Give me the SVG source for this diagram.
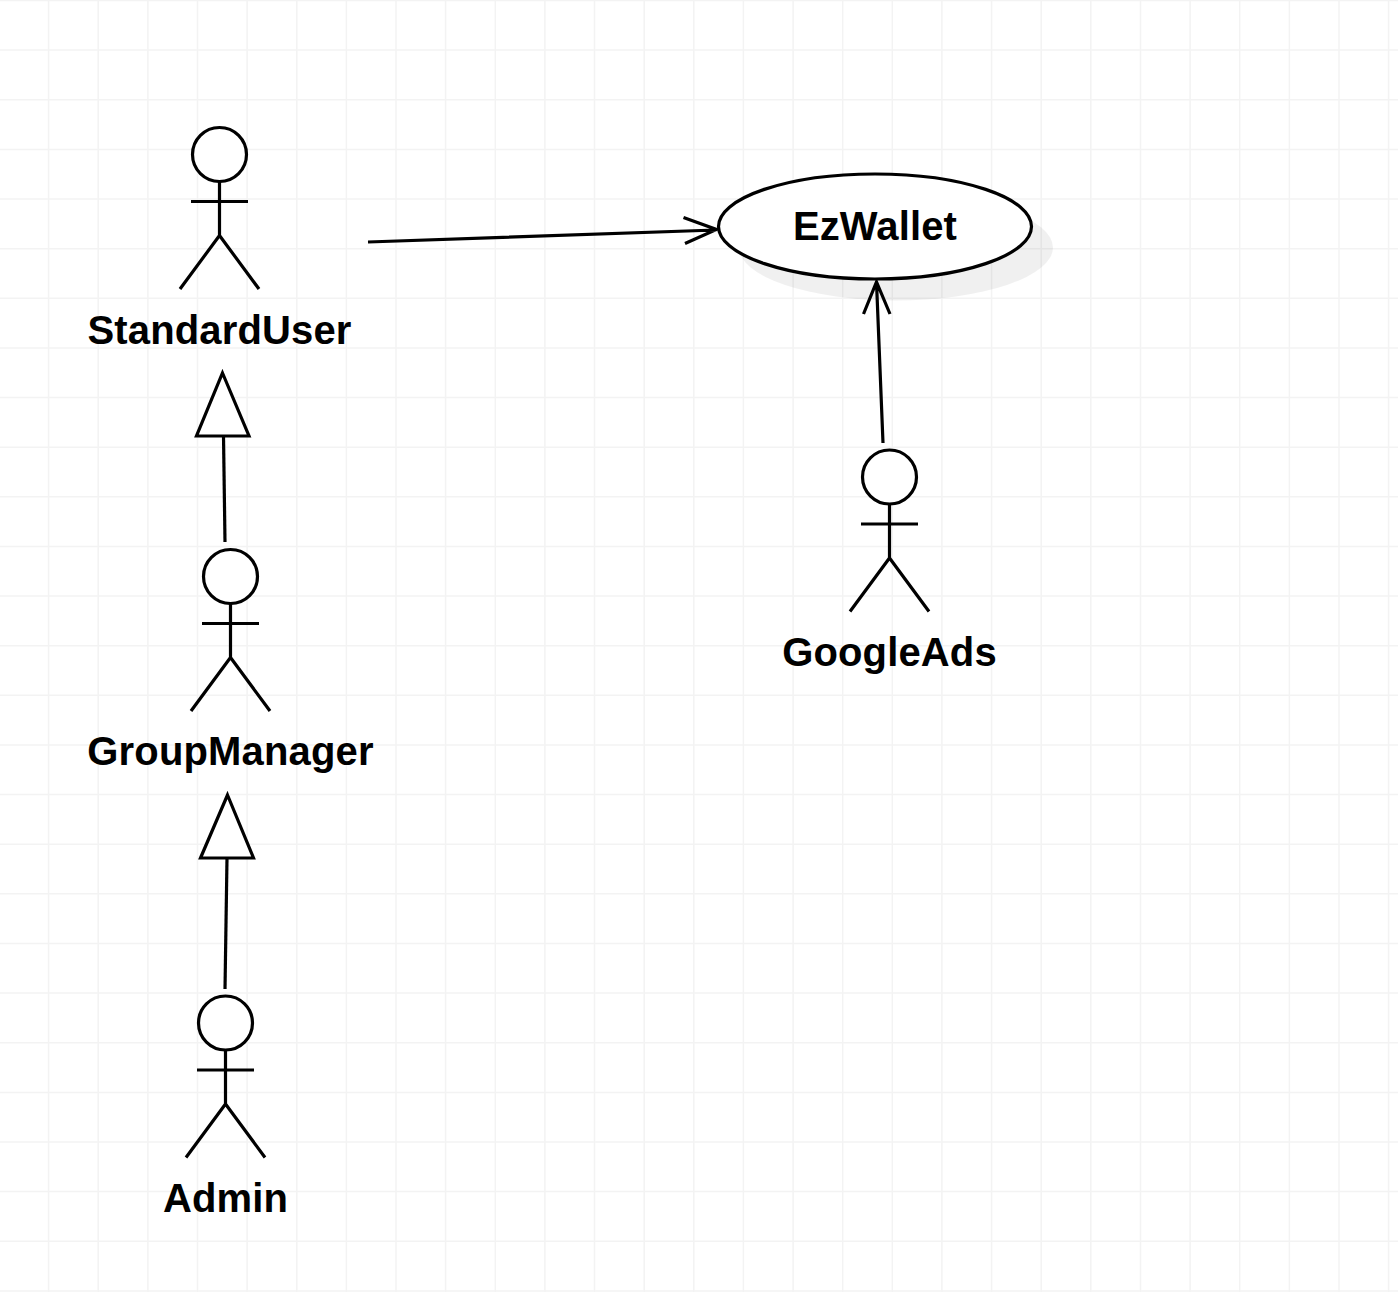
<svg xmlns="http://www.w3.org/2000/svg" width="1398" height="1292" viewBox="0 0 1398 1292">
<style>
.g{stroke:#f3f3f3;stroke-width:1.5;fill:none}
.s{stroke:#000;stroke-width:3.200;fill:none}
.a{stroke:#000;stroke-width:3.200;fill:#fff}
.t{font-family:"Liberation Sans",Arial,sans-serif;font-weight:700;font-size:40px;letter-spacing:.15px;fill:#000;text-anchor:middle}
</style>
<defs>
<g id="actor">
<circle class="a" cx="0" cy="27.500" r="27"/>
<path class="s" d="M0 55V108.500M-28.500 74.500H28.500M-39.500 162L0 108.500L39.500 162"/>
</g>
</defs>
<rect width="1398" height="1292" fill="#fff"/>
<g id="grid">
<path class="g" d="M48.600 0V1292M98.200 0V1292M147.900 0V1292M197.500 0V1292M247.100 0V1292M296.800 0V1292M346.400 0V1292M396 0V1292M445.600 0V1292M495.300 0V1292M544.900 0V1292M594.500 0V1292M644.200 0V1292M693.800 0V1292M743.400 0V1292M793.100 0V1292M842.700 0V1292M892.300 0V1292M941.900 0V1292M991.600 0V1292M1041.200 0V1292M1090.800 0V1292M1140.500 0V1292M1190.100 0V1292M1239.700 0V1292M1289.400 0V1292M1339 0V1292M1388.600 0V1292"/>
<path class="g" d="M0 .5H1398M0 50.100H1398M0 99.800H1398M0 149.400H1398M0 199H1398M0 248.700H1398M0 298.300H1398M0 347.900H1398M0 397.500H1398M0 447.200H1398M0 496.800H1398M0 546.400H1398M0 596.100H1398M0 645.700H1398M0 695.300H1398M0 745H1398M0 794.600H1398M0 844.200H1398M0 893.800H1398M0 943.500H1398M0 993.100H1398M0 1042.700H1398M0 1092.400H1398M0 1142H1398M0 1191.600H1398M0 1241.300H1398M0 1290.900H1398"/>
</g>
<g id="connectors">
<path class="s" d="M368 242L716 230M683.500 217.500L716.500 229.500L685 243.500"/>
<path class="s" d="M883 443L876.500 282M863.500 314L876.500 282L890 314"/>
<path class="s" d="M225 542L223.500 436"/>
<path class="a" d="M222.500 373L249 436H196.500Z"/>
<path class="s" d="M225 989L227 858"/>
<path class="a" d="M227.500 795L253.500 858H200.500Z"/>
</g>
<g id="ezwallet">
<ellipse cx="896" cy="247.500" rx="157" ry="53" fill="#000" fill-opacity=".06"/>
<ellipse class="a" cx="875" cy="226.500" rx="156.500" ry="52.500"/>
<text class="t" x="875" y="240">EzWallet</text>
</g>
<g id="standarduser">
<use href="#actor" x="219.500" y="127"/>
<text class="t" x="219.500" y="344">StandardUser</text>
</g>
<g id="groupmanager">
<use href="#actor" x="230.500" y="549"/>
<text class="t" x="230.500" y="765">GroupManager</text>
</g>
<g id="admin">
<use href="#actor" x="225.500" y="995.500"/>
<text class="t" x="225.500" y="1212">Admin</text>
</g>
<g id="googleads">
<use href="#actor" x="889.500" y="449.500"/>
<text class="t" x="889.500" y="666">GoogleAds</text>
</g>
</svg>
